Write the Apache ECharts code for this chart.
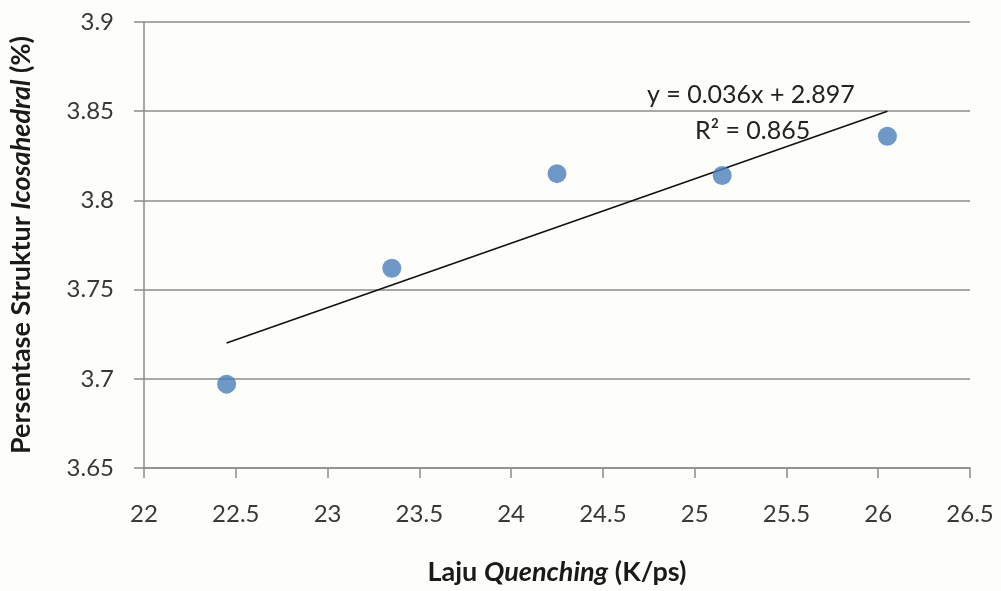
<!DOCTYPE html>
<html>
<head>
<meta charset="utf-8">
<script src="https://cdn.jsdelivr.net/npm/echarts@6/dist/echarts.min.js"></script>
<style>
html,body{margin:0;padding:0;background:#fdfdf9;}
#chart{width:1001px;height:591px;}
</style>
</head>
<body>
<div id="chart"></div>
<script>
// Data
const xValues = [22.45, 23.35, 24.25, 25.15, 26.05];
const yValues = [3.697, 3.762, 3.815, 3.814, 3.836];
const trendX = [22.45, 26.05];
const trendY = [3.72, 3.85];
const equationText = 'y = 0.036x + 2.897';
const r2Text = 'R² = 0.865';
const xTitle = ['Laju ', 'Quenching', ' (K/ps)'];
const yTitle = ['Persentase Struktur ', 'Icosahedral', ' (%)'];

const FONT = 'Lato';
const axisGray = '#8c8c8c';
const chart = echarts.init(document.getElementById('chart'));
const titleRich = {
  b: {fontFamily: FONT, fontWeight: 'bold', fontSize: 27, color: '#1a1a1a'},
  bi: {fontFamily: FONT, fontWeight: 'bold', fontStyle: 'italic', fontSize: 27, color: '#1a1a1a'}
};
const option = {
  backgroundColor: '#fdfdf9',
  animation: false,
  grid: {left: 143, right: 31, top: 22, bottom: 123, containLabel: false},
  xAxis: {
    type: 'value', min: 22, max: 26.5, interval: 0.5,
    name: '{b|' + xTitle[0] + '}{bi|' + xTitle[1] + '}{b|' + xTitle[2] + '}',
    nameLocation: 'middle', nameGap: 91,
    nameTextStyle: {rich: titleRich},
    axisLine: {show: true, lineStyle: {color: axisGray, width: 1.5}},
    axisTick: {show: true, length: 10, inside: false, lineStyle: {color: axisGray, width: 1.5}},
    axisLabel: {fontFamily: FONT, fontSize: 24, color: '#383838', margin: 34},
    splitLine: {show: false}
  },
  yAxis: {
    type: 'value', min: 3.65, max: 3.9, interval: 0.05,
    name: '{b|' + yTitle[0] + '}{bi|' + yTitle[1] + '}{b|' + yTitle[2] + '}',
    nameLocation: 'middle', nameGap: 109, nameRotate: 90,
    nameTextStyle: {rich: titleRich},
    axisLine: {show: true, lineStyle: {color: axisGray, width: 1.5}},
    axisTick: {show: true, length: 10, inside: false, lineStyle: {color: axisGray, width: 1.5}},
    axisLabel: {fontFamily: FONT, fontSize: 24, color: '#383838', margin: 30,
      formatter: v => String(Math.round(v * 100) / 100)},
    splitLine: {show: true, lineStyle: {color: axisGray, width: 1.5}}
  },
  series: [
    {
      type: 'line',
      data: trendX.map((x, i) => [x, trendY[i]]),
      showSymbol: false, symbol: 'none',
      lineStyle: {color: '#111', width: 1.6},
      z: 3
    },
    {
      type: 'scatter',
      data: xValues.map((x, i) => [x, yValues[i]]),
      symbol: 'circle', symbolSize: 19,
      itemStyle: {color: '#4a7ebb'},
      z: 4
    }
  ],
  graphic: [
    {type: 'text', left: 647, top: 82, z: 10,
      style: {text: equationText, fontFamily: FONT, fontSize: 25, fill: '#222'}},
    {type: 'text', left: 695, top: 118, z: 10,
      style: {text: r2Text, fontFamily: FONT, fontSize: 25, fill: '#222'}}
  ]
};
chart.setOption(option);
</script>
</body>
</html>
